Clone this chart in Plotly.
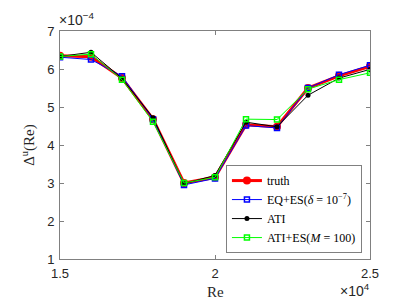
import plotly.graph_objects as go

re_vals = [15000, 16000, 17000, 18000, 19000, 20000, 21000, 22000, 23000, 24000, 25000]
# values in units of 1e-4
truth = [6.35, 6.32, 5.76, 4.68, 3.00, 3.15, 4.53, 4.48, 5.50, 5.82, 6.07]
eq_es = [6.31, 6.25, 5.81, 4.68, 2.95, 3.12, 4.51, 4.45, 5.50, 5.85, 6.10]
ati = [6.33, 6.44, 5.75, 4.72, 2.98, 3.20, 4.60, 4.48, 5.31, 5.76, 5.99]
ati_es = [6.33, 6.39, 5.72, 4.61, 3.00, 3.15, 4.68, 4.67, 5.47, 5.72, 5.90]

x_ticks = [15000, 20000, 25000]
x_ticklabels = ["1.5", "2", "2.5"]
y_ticks = [1, 2, 3, 4, 5, 6, 7]
y_ticklabels = ["1", "2", "3", "4", "5", "6", "7"]

serif = "Liberation Serif"
sans = "Liberation Sans"

fig = go.Figure()
fig.add_trace(go.Scatter(x=re_vals, y=truth, mode="lines+markers", name="truth",
                         line=dict(color="#ff0000", width=3),
                         marker=dict(symbol="circle", size=8, color="#ff0000")))
fig.add_trace(go.Scatter(x=re_vals, y=eq_es, mode="lines+markers",
                         name="EQ+ES(<i>δ</i> = 10<sup>−7</sup>)",
                         line=dict(color="#0000ff", width=1),
                         marker=dict(symbol="square-open", size=5, color="#0000ff",
                                     line=dict(width=1.5))))
fig.add_trace(go.Scatter(x=re_vals, y=ati, mode="lines+markers", name="ATI",
                         line=dict(color="#000000", width=1),
                         marker=dict(symbol="circle", size=5, color="#000000")))
fig.add_trace(go.Scatter(x=re_vals, y=ati_es, mode="lines+markers",
                         name="ATI+ES(<i>M</i> = 100)",
                         line=dict(color="#00ff00", width=1),
                         marker=dict(symbol="square-open", size=5, color="#00ff00",
                                     line=dict(width=1.5))))

axis_common = dict(showline=True, linecolor="#808080", linewidth=1, mirror="ticks",
                   ticks="inside", ticklen=4, tickcolor="#808080", showgrid=False,
                   zeroline=False, tickfont=dict(family=sans, size=13, color="#262626"))

fig.update_xaxes(range=[15000, 25000], tickvals=x_ticks, ticktext=x_ticklabels,
                 ticklabelstandoff=2, **axis_common)
fig.update_yaxes(range=[1, 7], tickvals=y_ticks, ticktext=y_ticklabels,
                 ticklabelstandoff=2,
                 title=dict(text="Δ<sup>u</sup>(Re)", font=dict(family=serif, size=15, color="#262626"),
                            standoff=8), **axis_common)

fig.add_annotation(x=0.5, y=0, xref="paper", yref="paper", xanchor="center", yanchor="middle",
                   text="Re", showarrow=False, yshift=-33,
                   font=dict(family=serif, size=15, color="#262626"))
fig.add_annotation(x=0, y=1, xref="paper", yref="paper", xanchor="left", yanchor="bottom",
                   text="×10<sup>−4</sup>", showarrow=False, xshift=-3, yshift=1,
                   font=dict(family=sans, size=14, color="#262626"))
fig.add_annotation(x=1, y=0, xref="paper", yref="paper", xanchor="right", yanchor="top",
                   text="×10<sup>4</sup>", showarrow=False, yshift=-20, xshift=2,
                   font=dict(family=sans, size=14, color="#262626"))

fig.update_layout(
    width=399, height=299,
    margin=dict(l=52, r=37, t=23, b=48),
    paper_bgcolor="white", plot_bgcolor="white",
    showlegend=True,
    legend=dict(x=0.974, y=0.026, xanchor="right", yanchor="bottom",
                bgcolor="white", bordercolor="#808080", borderwidth=1,
                font=dict(family=serif, size=12, color="#000000"),
                tracegroupgap=0, itemwidth=30),
)

fig.write_html("out.html")
